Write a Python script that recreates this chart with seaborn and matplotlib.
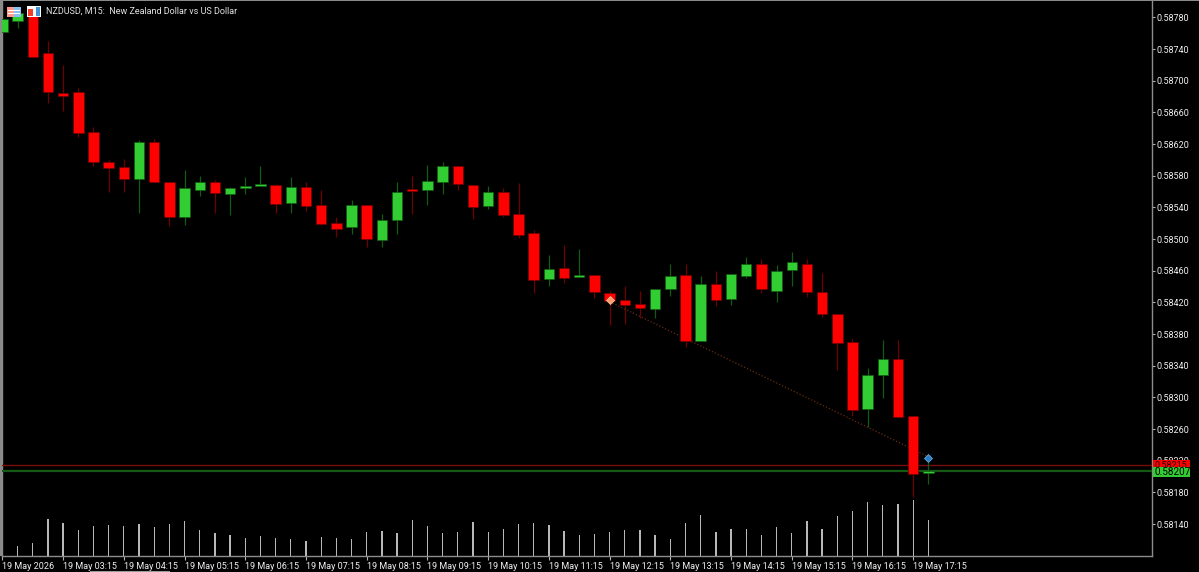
import numpy as np
import pandas as pd
import matplotlib
matplotlib.use("Agg")
import matplotlib.pyplot as plt
from matplotlib.patches import Rectangle
import seaborn as sns

# NZDUSD M15 candles, prices in points (1e-5)
opens = [58762, 58776, 58784, 58735, 58684, 58686, 58635, 58597, 58591, 58576,
         58623, 58572, 58528, 58562, 58572, 58557, 58565, 58567, 58568, 58546,
         58566, 58543, 58520, 58515, 58543, 58499, 58524, 58563, 58562, 58572,
         58592, 58568, 58542, 58560, 58532, 58508, 58450, 58464, 58452, 58455,
         58432, 58423, 58418, 58412, 58437, 58455, 58371, 58443, 58424, 58453,
         58469, 58435, 58461, 58469, 58433, 58405, 58370, 58285, 58328, 58349,
         58277, 58205]
closes = [58778, 58786, 58730, 58686, 58681, 58634, 58597, 58590, 58576, 58623,
          58572, 58528, 58565, 58572, 58558, 58565, 58567, 58570, 58544, 58566,
          58542, 58519, 58513, 58543, 58500, 58524, 58560, 58561, 58573, 58592,
          58570, 58541, 58560, 58530, 58505, 58448, 58462, 58451, 58455, 58433,
          58422, 58417, 58413, 58437, 58453, 58371, 58443, 58423, 58456, 58469,
          58437, 58460, 58471, 58433, 58405, 58369, 58284, 58328, 58349, 58275,
          58203, 58207]
highs = [58778, 58792, 58790, 58750, 58720, 58691, 58642, 58600, 58601, 58625,
         58627, 58572, 58587, 58580, 58575, 58566, 58578, 58592, 58570, 58578,
         58572, 58562, 58528, 58549, 58543, 58532, 58572, 58580, 58594, 58597,
         58592, 58568, 58567, 58565, 58571, 58512, 58480, 58493, 58488, 58455,
         58434, 58441, 58435, 58437, 58469, 58469, 58453, 58460, 58456, 58477,
         58475, 58467, 58484, 58475, 58457, 58405, 58374, 58337, 58373, 58373,
         58277, 58218]
lows = [58762, 58767, 58730, 58672, 58662, 58629, 58592, 58560, 58560, 58533,
        58572, 58517, 58518, 58555, 58533, 58530, 58557, 58570, 58533, 58533,
        58536, 58518, 58503, 58506, 58490, 58490, 58506, 58532, 58543, 58557,
        58562, 58525, 58538, 58528, 58501, 58432, 58441, 58445, 58452, 58426,
        58392, 58393, 58400, 58400, 58428, 58364, 58371, 58416, 58417, 58451,
        58432, 58421, 58441, 58427, 58402, 58335, 58277, 58263, 58299, 58275,
        58174, 58191]

# Tick volume per bar
volumes = [0, 103, 130, 370, 333, 260, 300, 310, 300, 320, 290, 320, 350, 257,
           233, 210, 183, 200, 180, 170, 147, 190, 183, 173, 240, 250, 230, 360,
           297, 233, 237, 337, 240, 270, 320, 333, 313, 250, 213, 223, 240, 263,
           263, 210, 173, 333, 410, 243, 267, 267, 213, 290, 230, 347, 273, 403,
           447, 537, 507, 523, 560, 357]

# Axis labels
time_labels = ["19 May 2026", "19 May 03:15", "19 May 04:15", "19 May 05:15",
               "19 May 06:15", "19 May 07:15", "19 May 08:15", "19 May 09:15",
               "19 May 10:15", "19 May 11:15", "19 May 12:15", "19 May 13:15",
               "19 May 14:15", "19 May 15:15", "19 May 16:15", "19 May 17:15"]
price_ticks = [58140, 58180, 58220, 58260, 58300, 58340, 58380, 58420, 58460,
               58500, 58540, 58580, 58620, 58660, 58700, 58740, 58780]

# Trend line and arrows
trend_bars = [40, 61]
trend_prices = [58421, 58225]
bid_price = 58207
ask_price = 58215

W, H = 1199, 572
sns.set_theme(style="dark", rc={"axes.facecolor": "black", "figure.facecolor": "black",
                                "axes.grid": False})
plt.rcParams["font.family"] = ["Roboto", "DejaVu Sans"]

fig = plt.figure(figsize=(W / 100, H / 100), dpi=100, facecolor="black")


def fig_rect(x0, y0, x1, y1, color, **kw):
    """Rectangle given in pixels from the top-left corner of the canvas."""
    fig.add_artist(Rectangle((x0 / W, 1 - y1 / H), (x1 - x0) / W, (y1 - y0) / H,
                             transform=fig.transFigure, facecolor=color,
                             edgecolor="none", **kw))


left, right, top, bottom = 2.0, 1152.0, 1.0, 556.0
ax = fig.add_axes([left / W, 1 - bottom / H, (right - left) / W, (bottom - top) / H])
ax.set_facecolor("black")

frame = pd.DataFrame({"bar": np.arange(len(opens)), "open": opens, "close": closes,
                      "high": highs, "low": lows, "volume": volumes})
frame["up"] = frame["close"] >= frame["open"]

px_per_bar = 15.18
ax.set_xlim((left - 2.4) / px_per_bar, (right - 2.4) / px_per_bar)
ax.set_ylim(58802.1 - 1.2634 * bottom, 58802.1 - 1.2634 * top)

# Volume histogram shares the panel, on its own scale from the baseline up
vol_ax = ax.twinx()
vol_ax.set_zorder(1)
ax.set_zorder(2)
ax.patch.set_visible(False)
sns.barplot(data=frame, x="bar", y="volume", native_scale=True, color="#b8b8b8",
            saturation=1, width=0.085, linewidth=0, edgecolor="none", ax=vol_ax)
vol_ax.set_xlim(ax.get_xlim())
vol_ax.set_ylim(0, (bottom - top) * 10)
vol_ax.set_axis_off()

red, green = "#ff0000", "#32cd32"
red_dark, green_dark = "#6e0000", "#125c12"
for up, part in frame.groupby("up"):
    body, edge = (green, green_dark) if up else (red, red_dark)
    ax.vlines(part["bar"], part["low"], part["high"], colors=edge, linewidth=0.9, zorder=3)
    lo = part[["open", "close"]].min(axis=1)
    hi = part[["open", "close"]].max(axis=1)
    ax.bar(part["bar"], hi - lo, bottom=lo, width=0.69, color=body, edgecolor=edge,
           linewidth=0.5, zorder=4)

# Trend line between the two arrows
sns.lineplot(x=trend_bars, y=trend_prices, ax=ax, color="#6a2a12", linewidth=0.9,
             linestyle=(0, (1, 1.6)), zorder=3.5, errorbar=None)
ax.plot([40], [58423], marker="D", ms=3.6, mfc="#ff9a6a", mec="#ffd0b0", mew=0.5, zorder=6)
ax.plot([61], [58223], marker="D", ms=4.2, mfc="#2a7cc4", mec="#7ab4e6", mew=0.5, zorder=6)

# Bid and ask lines with their price tags on the scale
ax.axhline(ask_price, color="#7a0c0c", linewidth=1.0, zorder=2.6)
ax.axhline(bid_price, color="#145a14", linewidth=1.6, zorder=2.7)

ax.spines["top"].set_visible(False)
for spine in ("left", "bottom", "right"):
    ax.spines[spine].set_color("#8c8c8c")
    ax.spines[spine].set_linewidth(1.0)

label_font = dict(fontsize=6.5, color="#f0f0f0")
ax.yaxis.tick_right()
ax.set_yticks(price_ticks)
ax.set_yticklabels([f"0.{p}" for p in price_ticks], **label_font)
ax.tick_params(axis="y", length=2.5, width=0.8, color="#b0b0b0", pad=0.5, right=True, left=False)
ax.set_xticks(np.arange(0, len(time_labels)) * 4)
ax.set_xticklabels(time_labels, ha="left", **label_font)
ax.tick_params(axis="x", length=3, width=0.8, color="#b0b0b0", pad=1, bottom=True)
ax.set_xlabel("")
ax.set_ylabel("")

# Price tags drawn over the scale labels
fig_rect(1153, 459.5, 1190, 468, red, zorder=10)
fig.text(1154.5 / W, 1 - 465.5 / H, f"0.{ask_price}", color="#200000", fontsize=6.5,
         va="center", zorder=11)
fig_rect(1153, 467, 1190, 477, green, zorder=12)
fig.text(1154.5 / W, 1 - 471.8 / H, f"0.{bid_price}", color="black", fontsize=7.2,
         va="center", zorder=13)

# Window furniture: frame edges, toolbar icons, scroll handle
fig_rect(0, 0, 2, 556, "#8a8a8a", zorder=9)
fig_rect(0, 0, W, 1, "#8a8a8a", zorder=9)
fig_rect(90, 570.5, 170, 572, "#9a9a9a", zorder=9)

fig_rect(7, 7, 14, 17, "#ff9c90", zorder=10)
fig_rect(14, 7, 21, 17, "#88c0f0", zorder=10)
for yy in (10, 13):
    fig_rect(8, yy, 20, yy + 1, "#ffffff", zorder=11)
fig_rect(27, 6, 41, 17, "#ffffff", zorder=10)
fig_rect(28, 9, 33, 16, "#f0402e", zorder=11)
fig_rect(36, 7, 40, 16, "#3f93d6", zorder=11)

fig.text(46 / W, 1 - 11.5 / H, "NZDUSD, M15:  New Zealand Dollar vs US Dollar",
         color="#e4e4e4", fontsize=6.5, va="center", zorder=12)

fig.savefig("out.png", dpi=100, facecolor="black")
